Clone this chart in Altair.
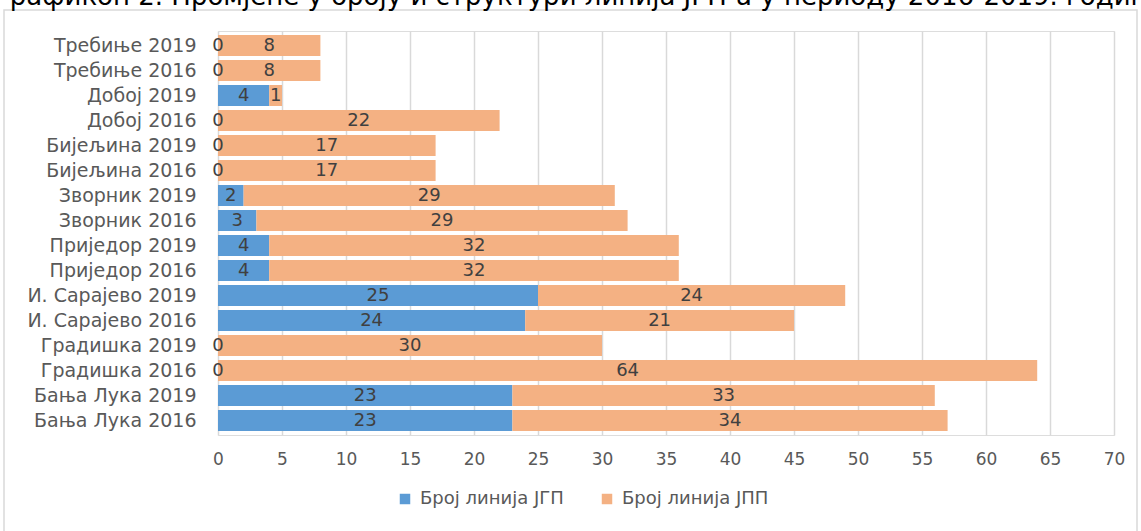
import altair as alt
import pandas as pd

# Cities / years, listed top to bottom as drawn
categories = [
    "Требиње 2019", "Требиње 2016", "Добој 2019", "Добој 2016",
    "Бијељина 2019", "Бијељина 2016", "Зворник 2019", "Зворник 2016",
    "Приједор 2019", "Приједор 2016", "И. Сарајево 2019", "И. Сарајево 2016",
    "Градишка 2019", "Градишка 2016", "Бања Лука 2019", "Бања Лука 2016",
]
jgp = [0, 0, 4, 0, 0, 0, 2, 3, 4, 4, 25, 24, 0, 0, 23, 23]
jpp = [8, 8, 1, 22, 17, 17, 29, 29, 32, 32, 24, 21, 30, 64, 33, 34]

series = ["Број линија ЈГП", "Број линија ЈПП"]
colors = ["#5B9BD5", "#F4B183"]
x_ticks = list(range(0, 75, 5))

title_text = "Графикон 2. Промјене у броју и структури линија ЈГП-а у периоду 2016-2019. године"

rows = []
for cat, a, b in zip(categories, jgp, jpp):
    rows.append({"cat": cat, "series": series[0], "order": 0,
                 "start": 0, "end": a, "value": a})
    rows.append({"cat": cat, "series": series[1], "order": 1,
                 "start": a, "end": a + b, "value": b})
df = pd.DataFrame(rows)
df["mid"] = (df["start"] + df["end"]) / 2

FONT = "DejaVu Sans"
W, H = 896, 404

x_scale = alt.Scale(domain=[0, 70], nice=False)
y_enc = alt.Y(
    "cat:N", sort=categories, title=None,
    scale=alt.Scale(paddingInner=0.16, paddingOuter=0.16),
    axis=alt.Axis(labelFontSize=19, labelColor="#595959", labelFont=FONT,
                  ticks=False, domain=False, labelPadding=22, grid=False),
)

bars = alt.Chart(df).mark_bar().encode(
    x=alt.X("start:Q", scale=x_scale, title=None,
            axis=alt.Axis(values=x_ticks, labelFontSize=17, labelColor="#595959",
                          labelFont=FONT, ticks=False, domain=False,
                          labelFlush=False,
                          gridColor="#D9D9D9", gridWidth=1.5, labelPadding=16)),
    x2="end:Q",
    y=y_enc,
    color=alt.Color(
        "series:N", scale=alt.Scale(domain=series, range=colors),
        legend=alt.Legend(
            title=None, orient="none", legendX=178, legendY=459,
            direction="horizontal", symbolType="square", symbolSize=110,
            symbolStrokeWidth=0, labelFontSize=18, labelColor="#595959",
            labelFont=FONT, columnPadding=34, labelOffset=6,
        ),
    ),
)

labels = alt.Chart(df).mark_text(
    fontSize=18, color="#404040", font=FONT, baseline="middle", align="center"
).encode(
    x=alt.X("mid:Q", scale=x_scale),
    y=alt.Y("cat:N", sort=categories),
    text="value:Q",
)

# Outer frame around the figure
frame = alt.Chart(pd.DataFrame({"f": [0]})).mark_rect(
    fill=None, stroke="#D9D9D9", strokeWidth=1.5
).encode(
    x=alt.value(-214), x2=alt.value(919), y=alt.value(-21), y2=alt.value(560)
)

# Caption line above the figure (partly outside the canvas)
caption = alt.Chart(pd.DataFrame({"t": [title_text]})).mark_text(
    align="left", baseline="alphabetic", fontSize=26, color="#000000", font=FONT
).encode(
    text="t:N", x=alt.value(-224), y=alt.value(-26)
)

chart = alt.layer(frame, bars, labels, caption).properties(
    width=W, height=H,
    autosize=alt.AutoSizeParams(type="none"),
    padding={"left": 218, "top": 31, "right": 27, "bottom": 96},
).configure_view(stroke=None).configure(background="white")

chart.save("out.html", embed_options={"renderer": "svg", "actions": False})
